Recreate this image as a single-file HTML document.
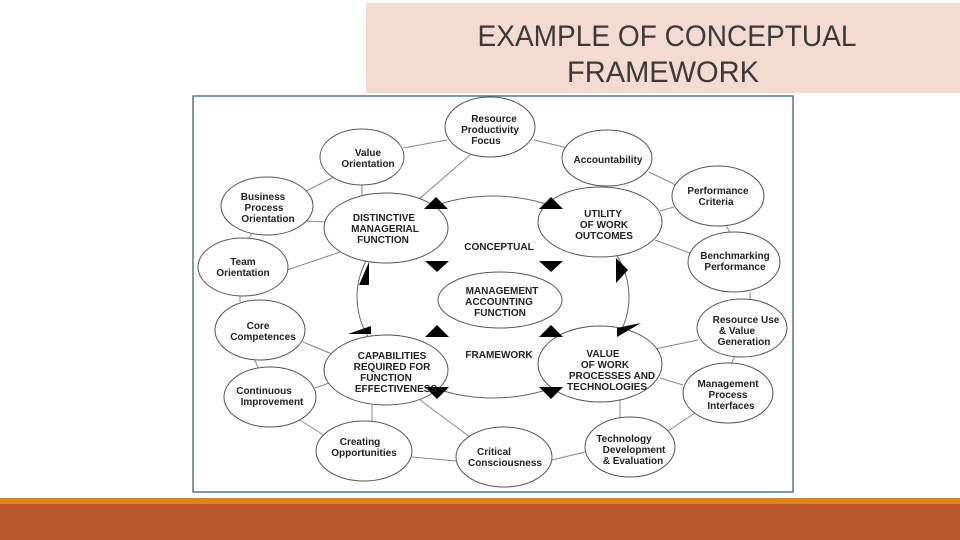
<!DOCTYPE html>
<html><head><meta charset="utf-8"><style>
html,body{margin:0;padding:0;background:#fff;}
svg{display:block;}
.t{font-family:"Liberation Sans",Arial,sans-serif;font-weight:bold;font-size:10px;fill:#222;text-anchor:middle;}
.ttl{font-family:"Liberation Sans Narrow","Liberation Sans",sans-serif;font-size:30px;fill:#3a3a3a;text-anchor:middle;}
</style></head><body>
<svg width="960" height="540" viewBox="0 0 960 540" xmlns="http://www.w3.org/2000/svg">
<rect x="366" y="3" width="594" height="90" fill="#f4dbd1"/>
<text class="ttl" x="667" y="46" textLength="379" lengthAdjust="spacingAndGlyphs">EXAMPLE OF CONCEPTUAL</text>
<text class="ttl" x="663" y="82" textLength="192" lengthAdjust="spacingAndGlyphs">FRAMEWORK</text>
<rect x="193" y="96" width="600" height="396" fill="#fff" stroke="#2e6a7a" stroke-width="1.3"/>
<rect x="0" y="498" width="960" height="6" fill="#e0841f"/>
<rect x="0" y="504" width="960" height="36" fill="#bb5a2c"/>
<g stroke="#888" stroke-width="1" fill="none">
<ellipse cx="493" cy="297" rx="136" ry="101" stroke="#666"/>
<line x1="403" y1="148" x2="447" y2="140"/><line x1="534" y1="140" x2="568" y2="148"/>
<line x1="334" y1="177" x2="302" y2="193"/><line x1="649" y1="172" x2="680" y2="187"/>
<line x1="362" y1="184" x2="362" y2="196"/><line x1="607" y1="186" x2="603" y2="190"/>
<line x1="470" y1="155" x2="418" y2="200"/>
<line x1="305" y1="221" x2="326" y2="222"/><line x1="674" y1="207" x2="660" y2="211"/>
<line x1="252" y1="233" x2="248" y2="239"/><line x1="726" y1="225" x2="730" y2="233"/>
<line x1="287" y1="270" x2="340" y2="252"/><line x1="690" y1="253" x2="655" y2="240"/>
<line x1="240" y1="295" x2="240" y2="302"/><line x1="750" y1="292" x2="750" y2="300"/>
<line x1="303" y1="342" x2="332" y2="354"/><line x1="698" y1="340" x2="650" y2="350"/>
<line x1="254" y1="358" x2="258" y2="368"/><line x1="735" y1="356" x2="731" y2="364"/>
<line x1="315" y1="388" x2="332" y2="382"/><line x1="683" y1="385" x2="660" y2="378"/>
<line x1="300" y1="420" x2="325" y2="436"/><line x1="695" y1="413" x2="665" y2="433"/>
<line x1="372" y1="405" x2="372" y2="421"/><line x1="620" y1="400" x2="620" y2="417"/>
<line x1="412" y1="457" x2="456" y2="461"/><line x1="552" y1="460" x2="585" y2="452"/>
<line x1="420" y1="400" x2="470" y2="437"/>
</g>
<g fill="#fff" stroke="#555" stroke-width="1">
<ellipse cx="490" cy="127" rx="45" ry="30"/>
<ellipse cx="362" cy="157" rx="42" ry="28"/>
<ellipse cx="607" cy="158" rx="45" ry="28"/>
<ellipse cx="267" cy="206" rx="46" ry="29"/>
<ellipse cx="718" cy="196" rx="46" ry="30"/>
<ellipse cx="386" cy="228" rx="62" ry="35"/>
<ellipse cx="600" cy="222" rx="62" ry="35"/>
<ellipse cx="243" cy="267" rx="45" ry="29"/>
<ellipse cx="734" cy="262" rx="46" ry="30"/>
<ellipse cx="500" cy="300" rx="62" ry="28"/>
<ellipse cx="260" cy="330" rx="45" ry="30"/>
<ellipse cx="742" cy="328" rx="45" ry="29"/>
<ellipse cx="386" cy="370" rx="62" ry="35"/>
<ellipse cx="600" cy="364" rx="62" ry="38"/>
<ellipse cx="270" cy="397" rx="46" ry="30"/>
<ellipse cx="728" cy="393" rx="45" ry="30"/>
<ellipse cx="364" cy="451" rx="48" ry="30"/>
<ellipse cx="504" cy="457" rx="48" ry="30"/>
<ellipse cx="630" cy="447" rx="45" ry="30"/>
</g>
<g fill="#000">
<polygon points="424,209 448,209 436,197"/>
<polygon points="539,209 563,209 551,197"/>
<polygon points="425,261 449,261 437,272"/>
<polygon points="539,261 563,261 551,272"/>
<polygon points="359,285 369,262 369,285"/>
<polygon points="616,258 628,270 616,283"/>
<polygon points="348,334 371,326 371,334"/>
<polygon points="617,328 641,323 617,337"/>
<polygon points="425,337 449,337 437,325"/>
<polygon points="539,337 563,337 551,325"/>
<polygon points="425,387 449,387 437,399"/>
<polygon points="539,387 563,387 551,399"/>
</g>
<g class="t">
<text x="494" y="122">Resource</text><text x="490" y="133">Productivity</text><text x="486" y="144">Focus</text>
<text x="368" y="156">Value</text><text x="368" y="167">Orientation</text>
<text x="608" y="163">Accountability</text>
<text x="263" y="200">Business</text><text x="264" y="211">Process</text><text x="268" y="222">Orientation</text>
<text x="718" y="194">Performance</text><text x="716" y="205">Criteria</text>
<text x="384" y="221">DISTINCTIVE</text><text x="385" y="232">MANAGERIAL</text><text x="383" y="243">FUNCTION</text>
<text x="603" y="217">UTILITY</text><text x="604" y="228">OF WORK</text><text x="604" y="239">OUTCOMES</text>
<text x="499" y="250">CONCEPTUAL</text>
<text x="243" y="265">Team</text><text x="243" y="276">Orientation</text>
<text x="735" y="259">Benchmarking</text><text x="735" y="270">Performance</text>
<text x="502" y="294">MANAGEMENT</text><text x="499" y="305">ACCOUNTING</text><text x="500" y="316">FUNCTION</text>
<text x="258" y="329">Core</text><text x="263" y="340">Competences</text>
<text x="746" y="323">Resource Use</text><text x="737" y="334">&amp; Value</text><text x="744" y="345">Generation</text>
<text x="499" y="358">FRAMEWORK</text>
<text x="392" y="359">CAPABILITIES</text><text x="392" y="370">REQUIRED FOR</text><text x="386" y="381">FUNCTION</text><text x="396" y="392">EFFECTIVENESS</text>
<text x="603" y="357">VALUE</text><text x="605" y="368">OF WORK</text><text x="612" y="379">PROCESSES AND</text><text x="607" y="390">TECHNOLOGIES</text>
<text x="264" y="394">Continuous</text><text x="272" y="405">Improvement</text>
<text x="728" y="387">Management</text><text x="728" y="398">Process</text><text x="731" y="409">Interfaces</text>
<text x="360" y="445">Creating</text><text x="364" y="456">Opportunities</text>
<text x="494" y="455">Critical</text><text x="505" y="466">Consciousness</text>
<text x="624" y="442">Technology</text><text x="634" y="453">Development</text><text x="633" y="464">&amp; Evaluation</text>
</g>
</svg>
</body></html>
